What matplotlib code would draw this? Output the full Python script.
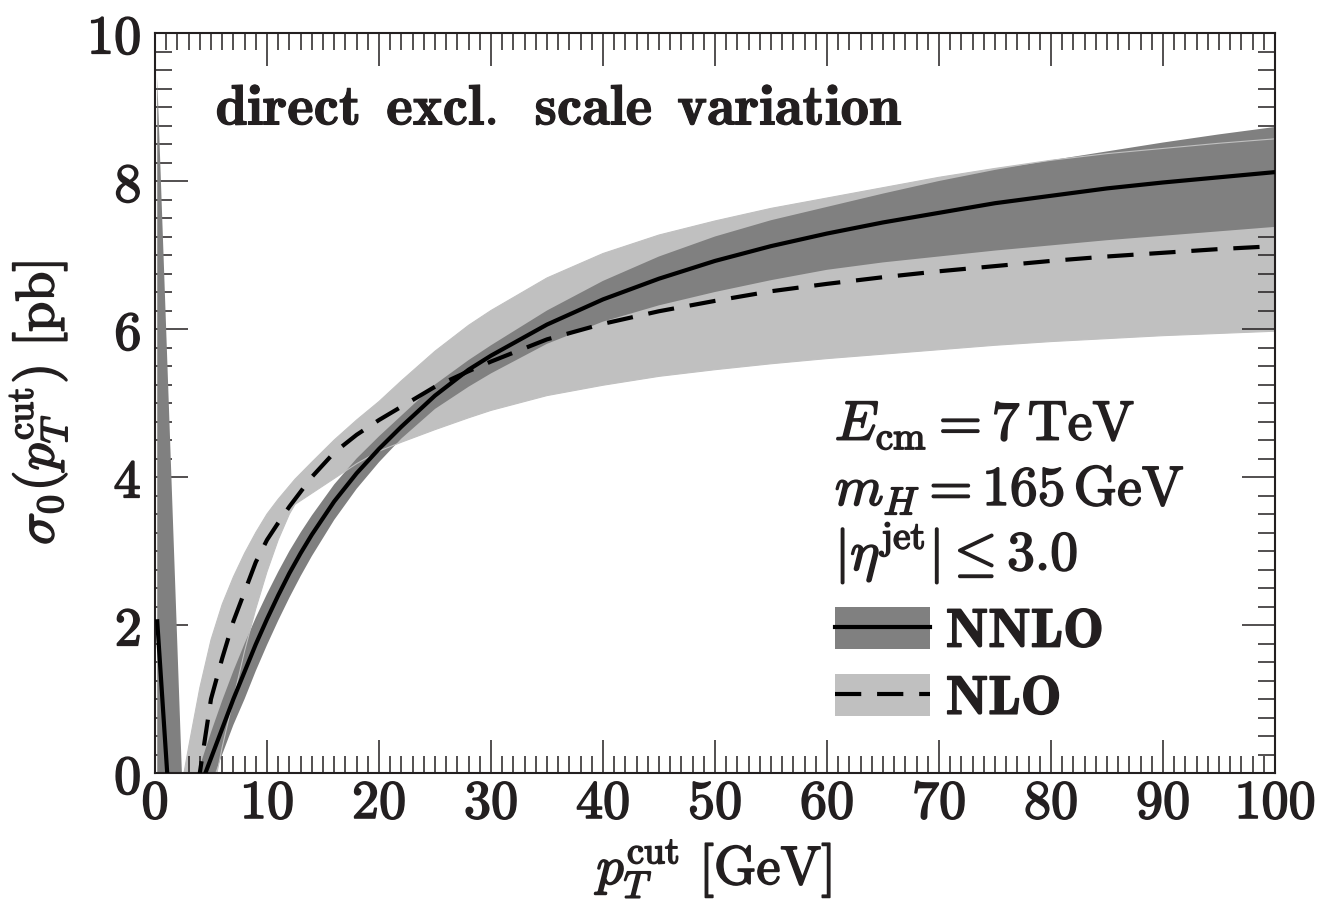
import matplotlib
matplotlib.use("Agg")
import matplotlib.pyplot as plt
import matplotlib.patheffects as pe
from matplotlib.patches import Patch
from matplotlib.lines import Line2D
from matplotlib.legend_handler import HandlerTuple
from matplotlib.ticker import MultipleLocator, FuncFormatter

# sigma_0(pT cut) at NNLO with scale-variation band
pt_nnlo = [0.2, 3, 4, 5, 6, 7, 8, 9, 10, 11, 12, 13, 14, 16, 18, 20, 22, 25, 28, 30,
           35, 40, 45, 50, 55, 60, 65, 70, 75, 80, 85, 90, 95, 100]
nnlo_central = [2.05, -4.4, -0.2, 0.2, 0.6, 1.0, 1.37, 1.74, 2.08, 2.4, 2.7, 2.97, 3.22,
                3.67, 4.05, 4.38, 4.68, 5.1, 5.45, 5.64, 6.06, 6.4, 6.68, 6.92, 7.12,
                7.29, 7.44, 7.57, 7.7, 7.8, 7.9, 7.98, 8.05, 8.12]
nnlo_hi = [9.4, -2.56, 0.09, 0.55, 0.98, 1.38, 1.75, 2.1, 2.42, 2.72, 3.0, 3.25, 3.48,
           3.9, 4.25, 4.55, 4.83, 5.25, 5.58, 5.78, 6.25, 6.65, 6.98, 7.25, 7.47,
           7.65, 7.83, 8.0, 8.15, 8.28, 8.4, 8.52, 8.63, 8.73]
nnlo_lo = [-0.5, -8.0, -1.2, -0.15, 0.25, 0.65, 1.0, 1.38, 1.73, 2.06, 2.37, 2.66, 2.93,
           3.42, 3.84, 4.2, 4.52, 4.92, 5.22, 5.4, 5.8, 6.1, 6.32, 6.5, 6.66,
           6.8, 6.9, 6.98, 7.06, 7.13, 7.2, 7.26, 7.32, 7.38]

# same at NLO
pt_nlo = [2, 3, 4, 5, 6, 7, 8, 9, 10, 11, 12, 12.5, 14, 16, 18, 20, 22, 25, 28, 30,
          35, 40, 45, 50, 55, 60, 65, 70, 75, 80, 85, 90, 95, 100]
nlo_central = [-2.0, -0.9, 0.0, 1.0, 1.55, 2.05, 2.45, 2.85, 3.15, 3.38, 3.6, 3.7, 4.0,
               4.33, 4.57, 4.77, 4.95, 5.22, 5.43, 5.56, 5.86, 6.07, 6.24, 6.38, 6.51,
               6.61, 6.7, 6.78, 6.85, 6.92, 6.98, 7.03, 7.08, 7.12]
nlo_hi = [-0.5, 0.35, 1.15, 1.8, 2.28, 2.65, 2.97, 3.25, 3.5, 3.7, 3.88, 3.97, 4.2,
          4.5, 4.77, 5.02, 5.3, 5.7, 6.05, 6.25, 6.69, 7.02, 7.27, 7.46, 7.63,
          7.77, 7.91, 8.05, 8.17, 8.28, 8.37, 8.44, 8.51, 8.57]
nlo_lo = [-4.5, -2.8, -1.3, -0.4, 0.35, 1.0, 1.65, 2.22, 2.72, 3.15, 3.5, 3.63, 3.78,
          3.98, 4.18, 4.35, 4.47, 4.64, 4.8, 4.9, 5.1, 5.24, 5.36, 5.45, 5.53,
          5.6, 5.66, 5.72, 5.78, 5.83, 5.87, 5.91, 5.94, 5.97]

info_lines = [r"$E_{\mathrm{cm}} = 7\,\mathrm{TeV}$",
              r"$m_H = 165\,\mathrm{GeV}$",
              r"$|\eta^{\mathrm{jet}}| \leq 3.0$"]

dark = "#808080"
light = "#c0c0c0"
ink = "#231f20"
fs = 39

plt.rcParams["mathtext.fontset"] = "cm"
plt.rcParams["axes.unicode_minus"] = False

# thicken the Computer Modern glyphs so they read as bold
bold = [pe.withStroke(linewidth=1.2, foreground=ink)]
bold_thin = [pe.withStroke(linewidth=0.8, foreground=ink)]

fig = plt.figure(figsize=(13.22, 9.11), dpi=100)
ax = fig.add_axes([155 / 1322, 1 - 773 / 911, 1120 / 1322, 740 / 911])

ax.fill_between(pt_nlo, nlo_lo, nlo_hi, color=light, lw=0, zorder=1)
ax.fill_between(pt_nnlo, nnlo_lo, nnlo_hi, color=dark, lw=0, zorder=2)
ax.plot(pt_nlo, nlo_hi, color=light, lw=0.8, zorder=2.5)
ax.plot(pt_nlo, nlo_lo, color=light, lw=0.8, zorder=2.5)
ax.plot(pt_nlo, nlo_central, color="black", lw=3, ls=(0, (6.3, 3.8)), zorder=3)
ax.plot(pt_nnlo, nnlo_central, color="black", lw=3, zorder=3)

ax.set_xlim(0, 100)
ax.set_ylim(0, 10)
ax.xaxis.set_major_locator(MultipleLocator(10))
ax.xaxis.set_minor_locator(MultipleLocator(1))
ax.yaxis.set_major_locator(MultipleLocator(2))
ax.yaxis.set_minor_locator(MultipleLocator(0.25))
fmt = FuncFormatter(lambda v, pos: r"$\mathbf{%d}$" % round(v))
ax.xaxis.set_major_formatter(fmt)
ax.yaxis.set_major_formatter(fmt)
ax.tick_params(which="both", direction="in", top=True, right=True,
               colors=ink, labelcolor=ink, width=1.1)
ax.tick_params(which="major", length=24, labelsize=fs)
ax.tick_params(which="minor", length=12)
ax.tick_params(axis="x", which="major", pad=3)
ax.tick_params(axis="y", which="major", pad=10)
for lab in ax.get_xticklabels() + ax.get_yticklabels():
    lab.set_path_effects(bold)
for s in ax.spines.values():
    s.set_linewidth(1.5)
    s.set_color(ink)

ax.set_xlabel(r"$p_T^{\mathrm{cut}}\ [\mathrm{GeV}]$", fontsize=fs, color=ink,
              labelpad=6, path_effects=bold)
ax.set_ylabel(r"$\sigma_0(p_T^{\mathrm{cut}})\ [\mathrm{pb}]$", fontsize=fs, color=ink,
              labelpad=12, path_effects=bold)

ax.text(0.054, 0.876, r"$\mathbf{direct\ \,excl.\ \,scale\ \,variation}$",
        transform=ax.transAxes, fontsize=41, color=ink, va="baseline",
        path_effects=bold_thin)

for i, line in enumerate(info_lines):
    ax.text(0.607, 0.45 - 0.088 * i, line, transform=ax.transAxes, fontsize=40,
            color=ink, va="baseline", path_effects=bold)

handles = [(Patch(facecolor=dark, edgecolor="none"), Line2D([], [], color="black", lw=3)),
           (Patch(facecolor=light, edgecolor="none"),
            Line2D([], [], color="black", lw=3, ls=(0, (6.3, 3.8))))]
leg = ax.legend(handles, [r"$\mathbf{NNLO}$", r"$\mathbf{NLO}$"],
                handler_map={tuple: HandlerTuple(ndivide=1, pad=0)},
                loc="lower left", bbox_to_anchor=(0.607, 0.065), frameon=False,
                fontsize=fs, handlelength=1.75, handleheight=0.82, handletextpad=0.3,
                labelspacing=0.28, borderpad=0, borderaxespad=0, labelcolor=ink)
for t in leg.get_texts():
    t.set_path_effects(bold)

fig.savefig("out.png", dpi=100)
